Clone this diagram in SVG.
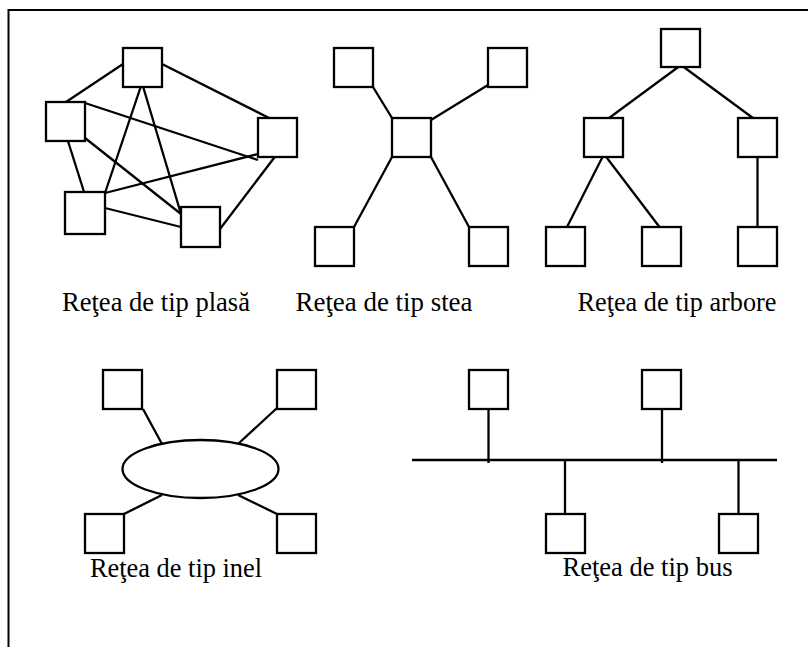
<svg xmlns="http://www.w3.org/2000/svg" width="808" height="647" viewBox="0 0 808 647">
<style>
.n{fill:#fff;stroke:#000;stroke-width:2.3}
.c line{stroke:#000;stroke-width:2.3}
.t{font-family:"Liberation Serif","Times New Roman",serif;font-size:28px;fill:#000}
</style>
<rect width="808" height="647" fill="#fff"/>
<path d="M8.5,647 V10 H808" fill="none" stroke="#000" stroke-width="2"/>
<g id="connectors" class="c">
<line x1="123" y1="64" x2="66" y2="102"/>
<line x1="162" y1="64" x2="277" y2="122"/>
<line x1="142" y1="83" x2="105" y2="193"/>
<line x1="142" y1="83" x2="181" y2="214"/>
<line x1="85" y1="103" x2="258" y2="160"/>
<line x1="67" y1="138" x2="85" y2="195"/>
<line x1="85" y1="138" x2="181" y2="214"/>
<line x1="105" y1="193" x2="258" y2="154"/>
<line x1="105" y1="208" x2="181" y2="227"/>
<line x1="277" y1="154" x2="220" y2="229"/>
<line x1="373" y1="87" x2="392" y2="118"/>
<line x1="488" y1="85" x2="431" y2="120"/>
<line x1="392" y1="157" x2="354" y2="227"/>
<line x1="431" y1="157" x2="469" y2="227"/>
<line x1="681" y1="65" x2="605" y2="121"/>
<line x1="681" y1="65" x2="757" y2="121"/>
<line x1="604" y1="154" x2="566" y2="229"/>
<line x1="604" y1="154" x2="661" y2="229"/>
<line x1="757.5" y1="154" x2="757.5" y2="229"/>
<line x1="143" y1="409" x2="162" y2="444"/>
<line x1="277" y1="408" x2="238" y2="444"/>
<line x1="124" y1="514" x2="162" y2="495"/>
<line x1="277" y1="514" x2="238" y2="495"/>
<line x1="412" y1="460" x2="777" y2="460"/>
<line x1="488.5" y1="406" x2="488.5" y2="463"/>
<line x1="662" y1="406" x2="662" y2="463"/>
<line x1="565" y1="460" x2="565" y2="517"/>
<line x1="738.5" y1="460" x2="738.5" y2="517"/>
</g>
<g id="mesh1"><rect class="n" x="123" y="48" width="39" height="39"/></g>
<g id="mesh2"><rect class="n" x="46" y="102" width="39" height="39"/></g>
<g id="mesh3"><rect class="n" x="258" y="118" width="39" height="39"/></g>
<g id="mesh4"><rect class="n" x="65" y="192" width="40" height="42"/></g>
<g id="mesh5"><rect class="n" x="181" y="207" width="39" height="40"/></g>
<g id="star1"><rect class="n" x="334" y="48" width="39" height="39"/></g>
<g id="star2"><rect class="n" x="488" y="48" width="39" height="39"/></g>
<g id="starCenter"><rect class="n" x="392" y="118" width="39" height="39"/></g>
<g id="star3"><rect class="n" x="315" y="227" width="39" height="39"/></g>
<g id="star4"><rect class="n" x="469" y="227" width="39" height="39"/></g>
<g id="tree0"><rect class="n" x="661" y="29" width="39" height="38"/></g>
<g id="tree1"><rect class="n" x="584" y="118" width="39" height="39"/></g>
<g id="tree2"><rect class="n" x="738" y="118" width="39" height="39"/></g>
<g id="tree3"><rect class="n" x="546" y="227" width="39" height="39"/></g>
<g id="tree4"><rect class="n" x="642" y="227" width="39" height="39"/></g>
<g id="tree5"><rect class="n" x="738" y="227" width="39" height="39"/></g>
<g id="ring"><ellipse class="n" cx="200.5" cy="469" rx="78" ry="29"/></g>
<g id="ring1"><rect class="n" x="103" y="370" width="39" height="39"/></g>
<g id="ring2"><rect class="n" x="277" y="370" width="39" height="39"/></g>
<g id="ring3"><rect class="n" x="85" y="514" width="39" height="39"/></g>
<g id="ring4"><rect class="n" x="277" y="514" width="39" height="39"/></g>
<g id="bus1"><rect class="n" x="469" y="370" width="39" height="39"/></g>
<g id="bus2"><rect class="n" x="642" y="370" width="39" height="39"/></g>
<g id="bus3"><rect class="n" x="546" y="514" width="39" height="39"/></g>
<g id="bus4"><rect class="n" x="719" y="514" width="39" height="39"/></g>
<g id="labels">
<text class="t" x="62" y="311" textLength="188" lengthAdjust="spacingAndGlyphs">Reţea de tip plasă</text>
<text class="t" x="295.5" y="311" textLength="177" lengthAdjust="spacingAndGlyphs">Reţea de tip stea</text>
<text class="t" x="577.5" y="311" textLength="199" lengthAdjust="spacingAndGlyphs">Reţea de tip arbore</text>
<text class="t" x="90" y="576.5" textLength="172" lengthAdjust="spacingAndGlyphs">Reţea de tip inel</text>
<text class="t" x="562.5" y="575.5" textLength="170" lengthAdjust="spacingAndGlyphs">Reţea de tip bus</text>
</g>
</svg>
